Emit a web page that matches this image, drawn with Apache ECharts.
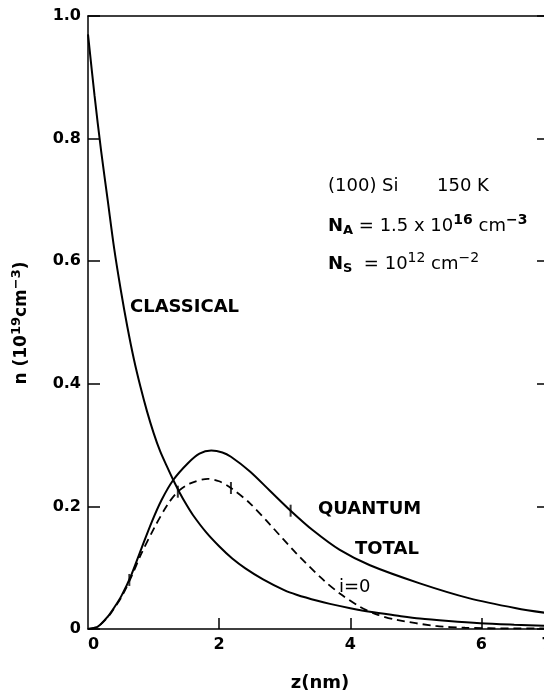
<!DOCTYPE html>
<html>
<head>
<meta charset="utf-8">
<script src="https://cdn.jsdelivr.net/npm/echarts@6/dist/echarts.min.js"></script>
<style>
html,body{margin:0;padding:0;background:#fff;}
#chart{width:544px;height:694px;}
</style>
</head>
<body>
<div id="chart"></div>
<script>
// Classical density profile
var classicalZ = [0, 0.1, 0.2, 0.3, 0.4, 0.5, 0.6, 0.7, 0.8, 0.9, 1.0, 1.1, 1.2, 1.3, 1.4, 1.5, 1.6, 1.8, 2.0, 2.2, 2.4, 2.67, 3.0, 3.18, 3.5, 3.69, 4.0, 4.3, 4.7, 5.06, 5.5, 5.98, 6.5, 7.0];
var classicalN = [0.97, 0.87, 0.78, 0.70, 0.62, 0.553, 0.493, 0.44, 0.395, 0.355, 0.32, 0.29, 0.266, 0.243, 0.222, 0.203, 0.186, 0.158, 0.135, 0.115, 0.099, 0.081, 0.063, 0.056, 0.046, 0.041, 0.034, 0.028, 0.022, 0.017, 0.013, 0.0095, 0.007, 0.005];
// Quantum total
var totalZ = [0, 0.15, 0.3, 0.4, 0.51, 0.66, 0.81, 0.97, 1.12, 1.3, 1.52, 1.7, 1.88, 2.05, 2.18, 2.47, 2.77, 3.09, 3.43, 3.84, 4.3, 5.06, 5.82, 6.53, 7.0];
var totalN = [0, 0.004, 0.02, 0.035, 0.054, 0.088, 0.13, 0.174, 0.21, 0.243, 0.27, 0.286, 0.291, 0.288, 0.281, 0.257, 0.226, 0.193, 0.161, 0.129, 0.104, 0.0745, 0.05, 0.034, 0.026];
// Ground subband i=0
var groundZ = [0, 0.15, 0.3, 0.4, 0.51, 0.66, 0.81, 1.02, 1.22, 1.37, 1.57, 1.83, 2.0, 2.18, 2.47, 2.77, 3.18, 3.59, 3.84, 4.15, 4.4, 4.7, 5.3, 5.75, 6.5, 7.0];
var groundN = [0, 0.004, 0.019, 0.034, 0.052, 0.085, 0.122, 0.167, 0.204, 0.224, 0.238, 0.245, 0.241, 0.23, 0.205, 0.171, 0.123, 0.08, 0.058, 0.036, 0.024, 0.015, 0.005, 0.002, 0.001, 0.001];
// Tick markers on curves
var markZ = [3.09, 2.18, 1.37, 0.63];
var markN = [0.193, 0.23, 0.224, 0.08];
// Axis ticks
var xLabelValues = [0, 2, 4, 6, 7];
var xTickValues = [2, 4, 6];

function zip(a, b) { return a.map(function (v, i) { return [v, b[i]]; }); }

var chart = echarts.init(document.getElementById('chart'), null, {renderer: 'canvas'});
var axisLineStyle = {color: '#000', width: 1.5};
var FF = '"DejaVu Sans"';
var labelFont = {color: '#000', fontSize: 16, fontWeight: 'bold', fontFamily: FF};
var txt = {fill: '#000', fontFamily: FF, fontSize: 18};

var option = {
  animation: false,
  backgroundColor: '#fff',
  grid: {left: 88, top: 16, width: 459, height: 613, show: false, outerBoundsMode: 'none', containLabel: false},
  xAxis: [{
    type: 'value', min: 0, max: 7, interval: 1, position: 'bottom',
    axisLine: {show: true, onZero: false, lineStyle: axisLineStyle},
    axisTick: {show: true, inside: true, length: 11, customValues: xTickValues, lineStyle: axisLineStyle},
    axisLabel: Object.assign({customValues: xLabelValues, margin: 8, showMaxLabel: true, showMinLabel: true, alignMinLabel: 'left'}, labelFont),
    splitLine: {show: false}
  }, {
    type: 'value', min: 0, max: 7, position: 'top',
    axisLine: {show: true, onZero: false, lineStyle: axisLineStyle},
    axisTick: {show: false}, axisLabel: {show: false}, splitLine: {show: false}
  }],
  yAxis: [{
    type: 'value', min: 0, max: 1, interval: 0.2, position: 'left',
    axisLine: {show: true, onZero: false, lineStyle: axisLineStyle},
    axisTick: {show: true, inside: true, length: 12, lineStyle: axisLineStyle},
    axisLabel: Object.assign({margin: 7, formatter: function (v) { return v === 0 ? '0' : v.toFixed(1); }}, labelFont),
    splitLine: {show: false}
  }, {
    type: 'value', min: 0, max: 1, interval: 0.2, position: 'right',
    axisLine: {show: true, onZero: false, lineStyle: axisLineStyle},
    axisTick: {show: true, inside: true, length: 10, lineStyle: axisLineStyle},
    axisLabel: {show: false}, splitLine: {show: false}
  }],
  series: [{
    name: 'Classical', type: 'line', data: zip(classicalZ, classicalN),
    showSymbol: false, smooth: 0.3,
    lineStyle: {color: '#000', width: 2}
  }, {
    name: 'Quantum total', type: 'line', data: zip(totalZ, totalN),
    showSymbol: false, smooth: 0.3,
    lineStyle: {color: '#000', width: 2}
  }, {
    name: 'i=0', type: 'line', data: zip(groundZ, groundN),
    showSymbol: false, smooth: 0.3,
    lineStyle: {color: '#000', width: 1.8, type: [8, 5]}
  }, {
    name: 'marks', type: 'scatter', data: zip(markZ, markN),
    symbol: 'rect', symbolSize: [2, 12], itemStyle: {color: '#000'}
  }],
  graphic: [
    {type: 'text', x: 328, y: 186, style: Object.assign({text: '(100) Si', textVerticalAlign: 'middle'}, txt)},
    {type: 'text', x: 437, y: 186, style: Object.assign({text: '150 K', textVerticalAlign: 'middle'}, txt)},
    {type: 'text', x: 328, y: 226, style: Object.assign({
      text: '{b|N}{sub|A}{n| = 1.5 x 10}{sup|16}{n| cm}{sup|−3}', textVerticalAlign: 'middle',
      rich: {
        b: {fontSize: 18, fontWeight: 'bold', fontFamily: FF},
        n: {fontSize: 18, fontFamily: FF},
        sub: {fontSize: 13, fontWeight: 'bold', fontFamily: FF, padding: [10, 0, 0, 0]},
        sup: {fontSize: 14, fontWeight: 'bold', fontFamily: FF, padding: [0, 0, 11, 0]}
      }}, txt)},
    {type: 'text', x: 328, y: 264, style: Object.assign({
      text: '{b|N}{sub|S}{n|  = 10}{sup|12}{n| cm}{sup|−2}', textVerticalAlign: 'middle',
      rich: {
        b: {fontSize: 18, fontWeight: 'bold', fontFamily: FF},
        n: {fontSize: 18, fontFamily: FF},
        sub: {fontSize: 13, fontWeight: 'bold', fontFamily: FF, padding: [10, 0, 0, 0]},
        sup: {fontSize: 14, fontFamily: FF, padding: [0, 0, 11, 0]}
      }}, txt)},
    {type: 'text', x: 130, y: 307, style: Object.assign({text: 'CLASSICAL', textVerticalAlign: 'middle', fontWeight: 'bold', fontSize: 17}, txt)},
    {type: 'text', x: 318, y: 509, style: Object.assign({text: 'QUANTUM', textVerticalAlign: 'middle', fontWeight: 'bold', fontSize: 17}, txt)},
    {type: 'text', x: 355, y: 549, style: Object.assign({text: 'TOTAL', textVerticalAlign: 'middle', fontWeight: 'bold', fontSize: 17}, txt)},
    {type: 'text', x: 339, y: 587, style: Object.assign({text: 'i=0', textVerticalAlign: 'middle'}, txt)},
    {type: 'text', x: 320, y: 683, style: Object.assign({text: 'z(nm)', textAlign: 'center', textVerticalAlign: 'middle', fontWeight: 'bold', fontSize: 17}, txt)},
    {type: 'text', x: 22, y: 323, rotation: Math.PI / 2, style: Object.assign({
      text: '{n|n (10}{sup|19}{n|cm}{sup|−3}{n|)}', textAlign: 'center', textVerticalAlign: 'middle',
      rich: {
        n: {fontSize: 17, fontWeight: 'bold', fontFamily: FF},
        sup: {fontSize: 13, fontWeight: 'bold', fontFamily: FF, padding: [0, 0, 10, 0]}
      }}, txt)}
  ]
};
chart.setOption(option);
</script>
</body>
</html>
